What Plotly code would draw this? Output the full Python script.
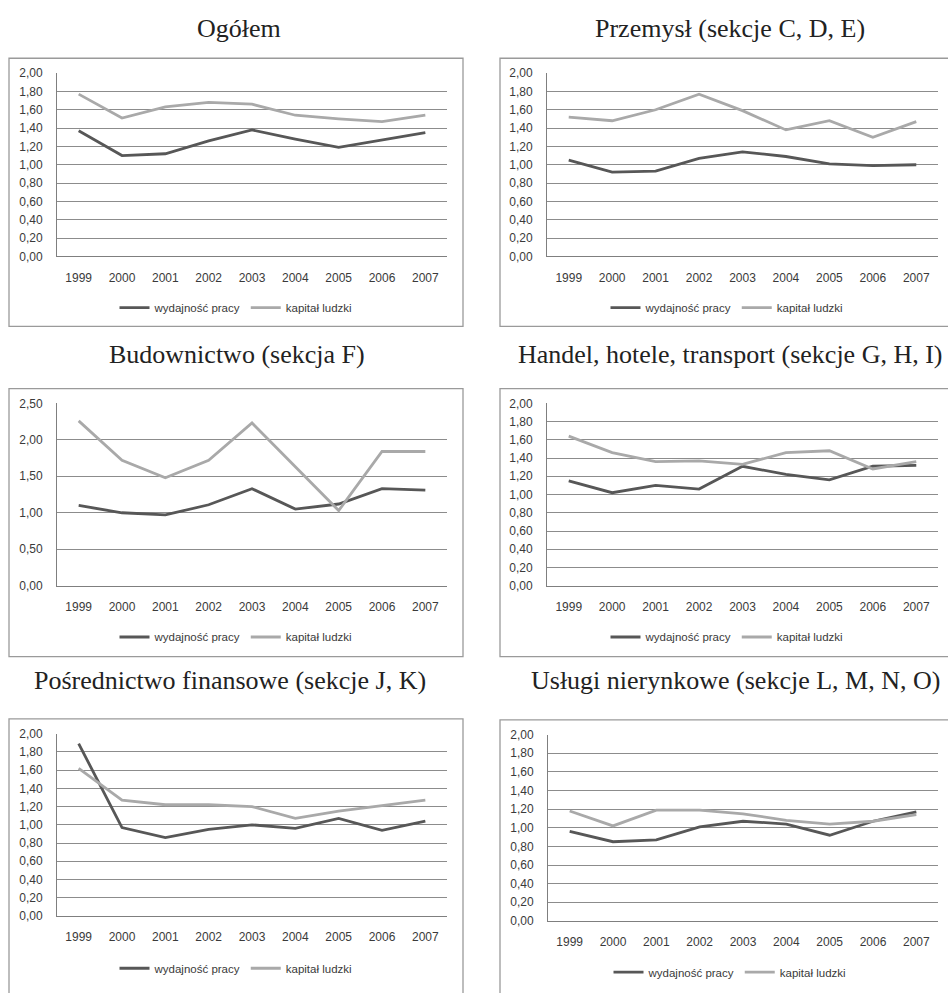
import plotly.graph_objects as go

years = ["1999", "2000", "2001", "2002", "2003", "2004", "2005", "2006", "2007"]

titles = [
    "Ogółem",
    "Przemysł (sekcje C, D, E)",
    "Budownictwo (sekcja F)",
    "Handel, hotele, transport (sekcje G, H, I)",
    "Pośrednictwo finansowe (sekcje J, K)",
    "Usługi nierynkowe (sekcje L, M, N, O)",
]
series_names = ["wydajność pracy", "kapitał ludzki"]

ogolem_wyd = [1.37, 1.10, 1.12, 1.26, 1.38, 1.28, 1.19, 1.27, 1.35]
ogolem_kap = [1.77, 1.51, 1.63, 1.68, 1.66, 1.54, 1.50, 1.47, 1.54]
przem_wyd = [1.05, 0.92, 0.93, 1.07, 1.14, 1.09, 1.01, 0.99, 1.00]
przem_kap = [1.52, 1.48, 1.60, 1.77, 1.59, 1.38, 1.48, 1.30, 1.47]
bud_wyd = [1.10, 1.00, 0.97, 1.11, 1.33, 1.05, 1.12, 1.33, 1.31]
bud_kap = [2.26, 1.72, 1.48, 1.72, 2.23, 1.63, 1.03, 1.84, 1.84]
handel_wyd = [1.15, 1.02, 1.10, 1.06, 1.31, 1.22, 1.16, 1.31, 1.32]
handel_kap = [1.64, 1.46, 1.36, 1.37, 1.33, 1.46, 1.48, 1.28, 1.36]
fin_wyd = [1.89, 0.97, 0.86, 0.95, 1.00, 0.96, 1.07, 0.94, 1.04]
fin_kap = [1.62, 1.27, 1.22, 1.22, 1.20, 1.07, 1.15, 1.21, 1.27]
usl_wyd = [0.96, 0.85, 0.87, 1.01, 1.07, 1.04, 0.92, 1.07, 1.17]
usl_kap = [1.18, 1.02, 1.19, 1.19, 1.15, 1.08, 1.04, 1.07, 1.14]

y_max = [2.0, 2.0, 2.5, 2.0, 2.0, 2.0]
y_step = [0.2, 0.2, 0.5, 0.2, 0.2, 0.2]

data = [
    (ogolem_wyd, ogolem_kap),
    (przem_wyd, przem_kap),
    (bud_wyd, bud_kap),
    (handel_wyd, handel_kap),
    (fin_wyd, fin_kap),
    (usl_wyd, usl_kap),
]

W, H = 948, 993


def px(x):
    return x / W


def py(y):
    return 1 - y / H


# geometry (pixels): title center, box, plot area, legend center
geom = [
    dict(t=(239, 22), box=(9, 52, 463, 324), plot=(57, 67, 447, 253), leg=(236, 305)),
    dict(t=(730, 22), box=(500, 52, 970, 324), plot=(547, 67, 938, 253), leg=(727, 305)),
    dict(t=(237, 352), box=(9, 387, 463, 659), plot=(57, 402, 447, 587), leg=(236, 639)),
    dict(t=(730, 352), box=(500, 387, 970, 659), plot=(547, 402, 938, 587), leg=(727, 639)),
    dict(t=(230, 683), box=(9, 722, 463, 1010), plot=(57, 737, 447, 922), leg=(236, 975)),
    dict(t=(735, 683), box=(500, 723, 970, 1010), plot=(548, 738, 938, 927), leg=(730, 979)),
]

DARK = "#575757"
LIGHT = "#a9a9a9"
GRID = "#8c8c8c"
TXT = "#3a3a3a"

fig = go.Figure()
layout = dict(
    width=W, height=H, margin=dict(l=0, r=0, t=0, b=0),
    paper_bgcolor="white", plot_bgcolor="white",
    separators=", ",
    font=dict(family="Liberation Sans, Arial", size=12, color=TXT),
    shapes=[], annotations=[],
)

for i, g in enumerate(geom):
    n = i + 1
    sfx = "" if n == 1 else str(n)
    xa, ya = "x" + sfx, "y" + sfx
    lg = "legend" + sfx
    wyd, kap = data[i]
    fig.add_trace(go.Scatter(x=years, y=wyd, mode="lines", name=series_names[0],
                             line=dict(color=DARK, width=2.8), xaxis=xa, yaxis=ya, legend=lg))
    fig.add_trace(go.Scatter(x=years, y=kap, mode="lines", name=series_names[1],
                             line=dict(color=LIGHT, width=2.8), xaxis=xa, yaxis=ya, legend=lg))
    x0, y0, x1, y1 = g["plot"]
    layout["xaxis" + sfx] = dict(
        domain=[px(x0), px(x1)], anchor=ya, type="category", range=[-0.5, len(years) - 0.5],
        showline=True, linecolor="#7f7f7f", linewidth=1, showgrid=False, zeroline=False,
        ticks="", ticklabelstandoff=10, tickfont=dict(size=12, color=TXT), fixedrange=True,
    )
    layout["yaxis" + sfx] = dict(
        domain=[py(y1), py(y0)], anchor=xa, range=[0, y_max[i]], dtick=y_step[i], tick0=0,
        tickformat=".2f", showline=True, linecolor="#7f7f7f", linewidth=1,
        showgrid=True, gridcolor=GRID, gridwidth=1, zeroline=False,
        ticks="", ticklabelstandoff=11, tickfont=dict(size=12, color=TXT), fixedrange=True,
    )
    lx, ly = g["leg"]
    layout[lg] = dict(
        orientation="h", xref="paper", yref="paper", x=px(lx), y=py(ly),
        xanchor="center", yanchor="middle", bgcolor="rgba(0,0,0,0)",
        font=dict(size=11.5, color=TXT), itemwidth=30, tracegroupgap=0,
    )
    bx0, by0, bx1, by1 = g["box"]
    layout["shapes"].append(dict(
        type="rect", xref="paper", yref="paper", x0=px(bx0), x1=px(bx1), y0=py(by1), y1=py(by0),
        line=dict(color="#9a9a9a", width=1.3), fillcolor="rgba(0,0,0,0)", layer="below",
    ))
    tx, ty = g["t"]
    layout["annotations"].append(dict(
        text=titles[i], xref="paper", yref="paper", x=px(tx), y=py(ty),
        xanchor="center", yanchor="middle", showarrow=False,
        font=dict(family="Liberation Serif, Times New Roman", size=26, color="#222222"),
    ))

fig.update_layout(**layout)
fig.write_html(
    "out.html",
    config={"displayModeBar": False},
    post_script="document.body.style.margin='0';document.body.style.overflow='hidden';",
)
